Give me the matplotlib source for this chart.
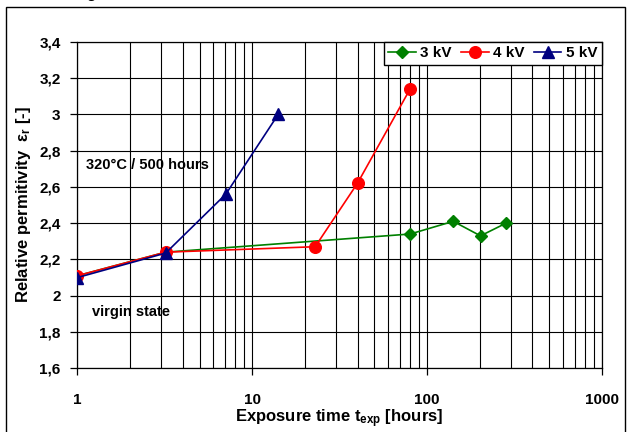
import matplotlib
matplotlib.use("Agg")
import matplotlib.pyplot as plt
from matplotlib.ticker import FixedLocator, FuncFormatter, NullFormatter, LogLocator
from matplotlib.patches import Rectangle

plt.rcParams['font.family'] = ['Liberation Sans', 'DejaVu Sans']
plt.rcParams['font.weight'] = 'bold'
plt.rcParams['mathtext.fontset'] = 'custom'
plt.rcParams['mathtext.rm'] = 'Liberation Sans:bold'
plt.rcParams['mathtext.bf'] = 'Liberation Sans:bold'
plt.rcParams['mathtext.it'] = 'Liberation Sans:bold'

# Data
t_3kv = [1, 3.2, 80, 141, 202, 283]
e_3kv = [2.11, 2.24, 2.34, 2.41, 2.33, 2.40]
t_4kv = [1, 3.2, 22.9, 40, 80]
e_4kv = [2.11, 2.24, 2.27, 2.62, 3.14]
t_5kv = [1, 3.2, 7.07, 14.1]
e_5kv = [2.10, 2.235, 2.56, 3.0]
labels = ["3 kV", "4 kV", "5 kV"]
y_ticks = [1.6, 1.8, 2.0, 2.2, 2.4, 2.6, 2.8, 3.0, 3.2, 3.4]
x_ticks = [1, 10, 100, 1000]

fig = plt.figure(figsize=(6.35, 4.32), dpi=100)
ax = fig.add_axes([77.3 / 635, 1 - 368.3 / 432, (602 - 77.3) / 635, (368.3 - 41.7) / 432])

ax.plot(t_3kv, e_3kv, color='#008000', lw=1.2, marker='D', ms=6, label=labels[0], zorder=3)
ax.plot(t_4kv, e_4kv, color='#FF0000', lw=1.2, marker='o', ms=8.4, label=labels[1], zorder=4)
ax.plot(t_5kv, e_5kv, color='#000080', lw=1.2, marker='^', ms=8.6, label=labels[2], zorder=5)

ax.set_xscale('log')
ax.set_xlim(1, 1000)
ax.set_ylim(1.6, 3.4)
ax.xaxis.set_major_locator(FixedLocator(x_ticks))
ax.xaxis.set_major_formatter(FuncFormatter(lambda v, p: f"{v:g}"))
ax.xaxis.set_minor_locator(LogLocator(base=10, subs=range(2, 10)))
ax.xaxis.set_minor_formatter(NullFormatter())
ax.yaxis.set_major_locator(FixedLocator(y_ticks))
ax.yaxis.set_major_formatter(FuncFormatter(lambda v, p: f"{v:g}".replace('.', ',')))

ax.grid(True, which='both', axis='x', color='black', lw=0.8)
ax.grid(True, which='major', axis='y', color='black', lw=0.8)
ax.set_axisbelow(True)
for s in ax.spines.values():
    s.set_color('black')
    s.set_linewidth(0.9)

ax.tick_params(axis='both', which='major', direction='out', length=5, width=0.9, labelsize=11, colors='black')
ax.tick_params(axis='x', which='major', pad=13)
ax.tick_params(axis='y', which='major', pad=7)
ax.tick_params(axis='x', which='minor', length=0)

fig.text(339 / 635, 1 - 419 / 432, r"Exposure time t$_{\mathbf{exp}}$ [hours]", ha='center', va='center',
         fontsize=12, fontweight='bold')
fig.text(24 / 635, 1 - 205 / 432, r"Relative permitivity  $\varepsilon_{r}$ [-]", ha='center', va='center',
         rotation=90, fontsize=12, fontweight='bold')

fig.text(86 / 635, 1 - 165 / 432, "320°C / 500 hours", fontsize=10.5, fontweight='bold', va='center', ha='left')
fig.text(92 / 635, 1 - 311.7 / 432, "virgin state", fontsize=10.5, fontweight='bold', va='center', ha='left')

leg = ax.legend(loc='upper right', bbox_to_anchor=(1.0, 1.0), ncol=3, frameon=True, fancybox=False,
                edgecolor='black', framealpha=1, borderaxespad=0, handlelength=1.8, handletextpad=0.3,
                columnspacing=0.6, borderpad=0.3, prop={'size': 11, 'weight': 'bold'})
leg.get_frame().set_linewidth(1.0)
leg.set_zorder(10)

fig.text(91 / 635, 1.0 + 2 / 432, "g", ha='center', va='baseline', fontsize=11, fontweight='bold')
fig.patches.append(Rectangle((6 / 635, -0.05), (625 - 6) / 635, (432 - 7) / 432 + 0.05,
                             transform=fig.transFigure, fill=False, edgecolor='black', lw=1.0))

fig.savefig("out.png", dpi=100)
